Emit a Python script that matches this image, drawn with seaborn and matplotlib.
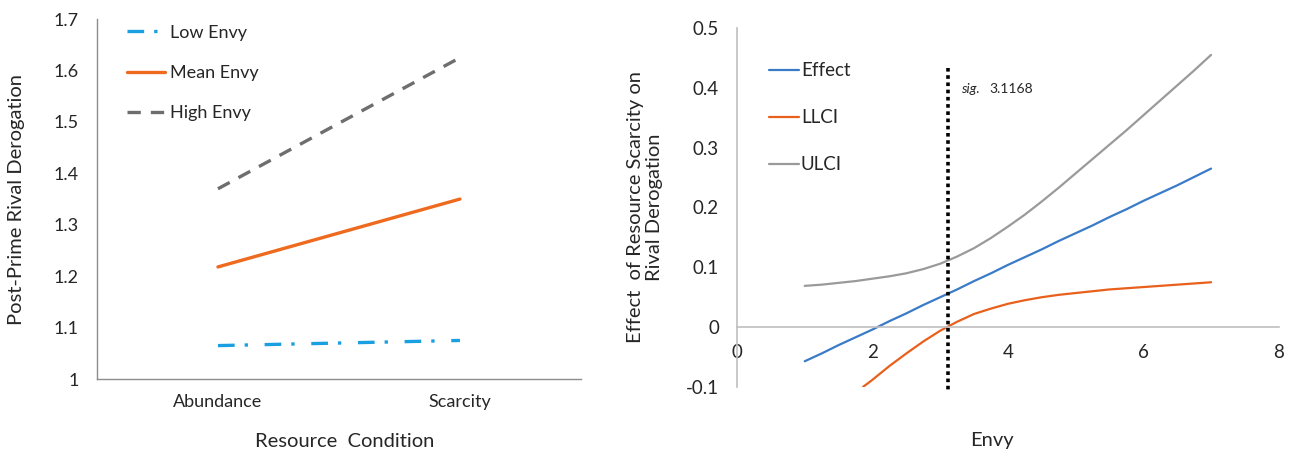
import matplotlib
matplotlib.use("Agg")
import matplotlib.pyplot as plt
import seaborn as sns
import numpy as np

# left panel: simple slopes
conditions = ["Abundance", "Scarcity"]
low_envy = [1.065, 1.075]
mean_envy = [1.218, 1.350]
high_envy = [1.370, 1.625]

# right panel: Johnson-Neyman plot
envy = [1.0, 1.25, 1.5, 1.75, 2.0, 2.25, 2.5, 2.75, 3.0, 3.25, 3.5, 3.75, 4.0,
        4.25, 4.5, 4.75, 5.0, 5.25, 5.5, 5.75, 6.0, 6.25, 6.5, 6.75, 7.0]
effect = [-0.057, -0.044, -0.030, -0.017, -0.004, 0.010, 0.023, 0.037, 0.050, 0.063,
          0.077, 0.090, 0.104, 0.117, 0.130, 0.144, 0.157, 0.170, 0.184, 0.197,
          0.211, 0.224, 0.237, 0.251, 0.265]
ulci = [0.069, 0.071, 0.074, 0.077, 0.081, 0.085, 0.090, 0.097, 0.106, 0.118,
        0.132, 0.149, 0.168, 0.188, 0.210, 0.233, 0.257, 0.281, 0.305, 0.329,
        0.354, 0.379, 0.404, 0.429, 0.455]
llci_envy = [1.86, 2.0, 2.25, 2.5, 2.75, 3.0, 3.25, 3.5, 3.75, 4.0, 4.25, 4.5,
             4.75, 5.0, 5.25, 5.5, 5.75, 6.0, 6.25, 6.5, 6.75, 7.0]
llci = [-0.100, -0.088, -0.065, -0.044, -0.024, -0.006, 0.009, 0.022, 0.031, 0.039,
        0.045, 0.050, 0.054, 0.057, 0.060, 0.063, 0.065, 0.067, 0.069, 0.071,
        0.073, 0.075]
jn_point = 3.1168

sns.set_style("white")
plt.rcParams['font.family'] = ['Lato', 'DejaVu Sans']
plt.rcParams['font.size'] = 13

fig = plt.figure(figsize=(12.93, 4.55), dpi=100)
ax1 = fig.add_axes([0.075, 0.167, 0.3743, 0.791])
ax2 = fig.add_axes([0.570, 0.1495, 0.419, 0.789])

# ---- left panel
xpos = np.arange(len(conditions))
sns.lineplot(x=xpos, y=low_envy, ax=ax1, color='#1A9FE0', lw=2.4,
             linestyle=(0, (5, 3, 1, 5)), label='Low Envy')
sns.lineplot(x=xpos, y=mean_envy, ax=ax1, color='#EE6A1E', lw=2.4, label='Mean Envy')
sns.lineplot(x=xpos, y=high_envy, ax=ax1, color='#6E6E6E', lw=2.4,
             linestyle=(0, (4, 3)), label='High Envy')

ax1.set_xlim(-0.5, len(conditions) - 0.5)
ax1.set_ylim(1.0, 1.7)
ax1.set_yticks(np.arange(1.0, 1.71, 0.1))
ax1.set_yticklabels(['1', '1.1', '1.2', '1.3', '1.4', '1.5', '1.6', '1.7'])
ax1.set_xticks([-0.5, 0.5, 1.5])
ax1.set_xticklabels([])
ax1.set_xticks(xpos, minor=True)
ax1.set_xticklabels(conditions, minor=True)
ax1.tick_params(axis='x', which='minor', length=0, pad=11, labelsize=13)
ax1.tick_params(axis='x', which='major', direction='out', length=6, width=1, color='#8C8C8C')
ax1.tick_params(axis='y', direction='out', length=6, width=1, color='#8C8C8C', pad=7, labelsize=13)
for s in ['top', 'right']:
    ax1.spines[s].set_visible(False)
for s in ['left', 'bottom']:
    ax1.spines[s].set_color('#8C8C8C')
    ax1.spines[s].set_linewidth(1)
ax1.set_ylabel('Post-Prime Rival Derogation', fontsize=14.5)
ax1.yaxis.set_label_coords(-0.149, 0.5)
ax1.set_xlabel('Resource  Condition', fontsize=14.5)
ax1.xaxis.set_label_coords(0.512, -0.15)
ax1.legend(loc='upper left', bbox_to_anchor=(0.062, 0.985), frameon=False,
           handlelength=2.1, handletextpad=0.3, labelspacing=1.35,
           borderaxespad=0, borderpad=0, fontsize=13)

# ---- right panel
sns.lineplot(x=envy, y=effect, ax=ax2, color='#3A7BC8', lw=1.6, label='Effect')
sns.lineplot(x=llci_envy, y=llci, ax=ax2, color='#E8601C', lw=1.6, label='LLCI')
sns.lineplot(x=envy, y=ulci, ax=ax2, color='#9A9A9A', lw=1.6, label='ULCI')
ax2.plot([jn_point, jn_point], [0.433, -0.108], color='black', lw=2.6,
         linestyle=(0, (1, 1)), clip_on=False)
ax2.text(3.31, 0.398, 'sig.', fontsize=10, style='italic', va='center')
ax2.text(3.72, 0.398, f'{jn_point:.4f}', fontsize=10, va='center')

ax2.set_xlim(0, 8)
ax2.set_ylim(-0.1, 0.5)
ax2.set_xticks([0, 2, 4, 6, 8])
ax2.set_yticks(np.arange(-0.1, 0.51, 0.1))
ax2.set_yticklabels(['-0.1', '0', '0.1', '0.2', '0.3', '0.4', '0.5'])
ax2.tick_params(axis='x', length=0, pad=12, labelsize=13.5)
ax2.tick_params(axis='y', length=0, pad=13, labelsize=13.5)
ax2.spines['bottom'].set_position(('data', 0))
for s in ['top', 'right']:
    ax2.spines[s].set_visible(False)
for s in ['left', 'bottom']:
    ax2.spines[s].set_color('#BFBFBF')
    ax2.spines[s].set_linewidth(1.2)
ax2.set_ylabel('Effect  of Resource Scarcity on\nRival Derogation', fontsize=14.5, linespacing=1.15)
ax2.yaxis.set_label_coords(-0.137, 0.5)
ax2.set_xlabel('Envy', fontsize=14.5)
ax2.xaxis.set_label_coords(0.471, -0.125)
ax2.legend(loc='upper left', bbox_to_anchor=(0.059, 0.905), frameon=False,
           handlelength=1.6, handletextpad=0.1, labelspacing=1.6,
           borderaxespad=0, borderpad=0, fontsize=13.5)

fig.savefig('out.png', dpi=100)
plt.close(fig)
